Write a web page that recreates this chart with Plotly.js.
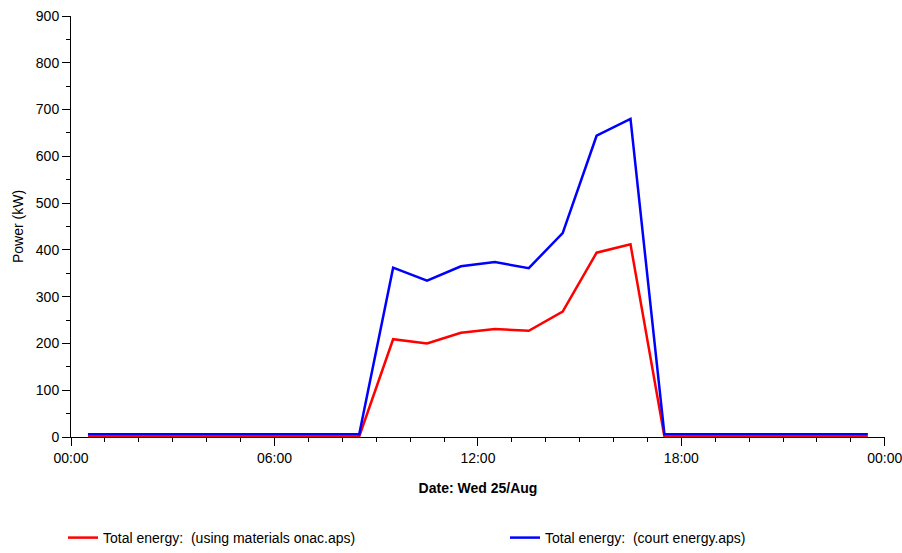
<!DOCTYPE html>
<html>
<head>
<meta charset="utf-8">
<script src="https://cdn.plot.ly/plotly-3.0.1.min.js"></script>
<style>body{margin:0;background:#fff}#chart{width:902px;height:553px}</style>
</head>
<body>
<div id="chart"></div>
<script>
const times = ['00:30','01:30','02:30','03:30','04:30','05:30','06:30','07:30','08:30','09:30','10:30','11:30','12:30','13:30','14:30','15:30','16:30','17:30','18:30','19:30','20:30','21:30','22:30','23:30'];
const redValues  = [1,1,1,1,1,1,1,1,1,209,200,223,231,227,268,394,412,1,1,1,1,1,1,1];
const blueValues = [6,6,6,6,6,6,6,6,6,362,334,365,374,361,436,644,680,6,6,6,6,6,6,6];
const redName = 'Total energy:  (using materials onac.aps)';
const blueName = 'Total energy:  (court energy.aps)';
const day = '2010-08-25 ';
const xs = times.map(t => day + t);

const font = {family: 'Arial, "Liberation Sans", sans-serif', size: 14, color: '#000'};

const traces = [
  {x: xs, y: redValues, name: redName, type: 'scatter', mode: 'lines', line: {color: '#ff0000', width: 2.5}, legend: 'legend'},
  {x: xs, y: blueValues, name: blueName, type: 'scatter', mode: 'lines', line: {color: '#0000ff', width: 2.5}, legend: 'legend2'}
];

const legendBase = {orientation: 'h', xref: 'container', yref: 'container', xanchor: 'left', yanchor: 'middle',
                    y: 1 - 538/553, itemwidth: 30, font: font, bgcolor: 'rgba(0,0,0,0)'};

const layout = {
  width: 902, height: 553,
  margin: {l: 71, r: 17, t: 16, b: 116, autoexpand: false},
  paper_bgcolor: '#fff', plot_bgcolor: '#fff',
  font: font,
  showlegend: true,
  legend: Object.assign({}, legendBase, {x: 63/902}),
  legend2: Object.assign({}, legendBase, {x: 505/902}),
  xaxis: {
    type: 'date',
    range: ['2010-08-25 00:00', '2010-08-26 00:00:20'],
    tick0: '2010-08-25 00:00', dtick: 21600000, tickformat: '%H:%M',
    ticks: 'outside', ticklen: 8, tickwidth: 1, tickcolor: '#000',
    minor: {dtick: 3600000, ticks: 'outside', ticklen: 4, tickcolor: '#000', showgrid: false},
    showgrid: false, zeroline: false, showline: true, linecolor: '#000', linewidth: 1,
    tickfont: font, automargin: false, ticklabeloverflow: 'allow',
    title: {text: '<b>Date: Wed 25/Aug</b>', font: font, standoff: 18}
  },
  yaxis: {
    range: [0, 900], dtick: 100,
    ticks: 'outside', ticklen: 8, tickwidth: 1, tickcolor: '#000',
    minor: {dtick: 50, ticks: 'outside', ticklen: 4, tickcolor: '#000', showgrid: false},
    showgrid: false, zeroline: false, showline: true, linecolor: '#000', linewidth: 1,
    tickfont: font, automargin: false,
    title: {text: 'Power (kW)', font: font, standoff: 8}
  }
};

Plotly.newPlot('chart', traces, layout, {staticPlot: true, displayModeBar: false});
</script>
</body>
</html>
